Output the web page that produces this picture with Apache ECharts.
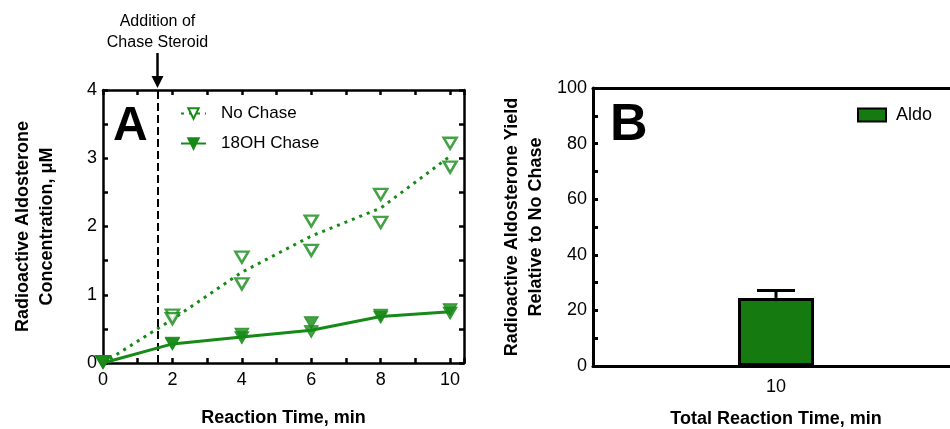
<!DOCTYPE html>
<html>
<head>
<meta charset="utf-8">
<script src="https://cdn.jsdelivr.net/npm/echarts@6/dist/echarts.min.js"></script>
<style>
    html, body { margin: 0; padding: 0; background: #fff; }
    #chart { width: 950px; height: 429px; }
</style>
</head>
<body>
<div id="chart"></div>
<script>
    // panel A: time course
    const times = [0, 2, 4, 6, 8, 10];
    const noChaseRep1 = [0.02, 0.70, 1.55, 2.08, 2.47, 3.22];
    const noChaseRep2 = [0.02, 0.65, 1.16, 1.65, 2.06, 2.87];
    const noChaseMean = [0, 0.64, 1.33, 1.86, 2.27, 3.03];
    const chaseRep1 = [0.02, 0.29, 0.42, 0.59, 0.70, 0.78];
    const chaseRep2 = [0.02, 0.28, 0.37, 0.46, 0.67, 0.73];
    const chaseMean = [0, 0.28, 0.38, 0.48, 0.68, 0.75];
    const chaseTime = 1.57;
    // panel B: yield
    const totalTimes = ['10'];
    const aldoYield = [24.5];
    const aldoErr = [2.7];

    const green = '#168a16';
    const barGreen = '#157a10';
    const font = "'Liberation Sans', Arial, sans-serif";

    const downTri = 'path://M0,0 L12,0 L6,10 Z';

    function pairs(ys) {
        return times.map((t, i) => [t, ys[i]]);
    }
    function lineData(ys) {
        return times.map((t, i) => ({value: [t, ys[i]], symbol: 'none'}));
    }

    let myChart = echarts.init(document.getElementById('chart'));

    const axisLine = {show: true, onZero: false, lineStyle: {color: '#000', width: 2.5}};
    const tickIn = {show: true, inside: true, length: 5, lineStyle: {color: '#000', width: 2.5}};

    myChart.setOption({
        animation: false,
        textStyle: {fontFamily: font, color: '#000'},
        grid: [
            {left: 103, top: 90, width: 361, height: 273, outerBoundsMode: 'none'},
            {left: 593, top: 88, width: 366, height: 278, outerBoundsMode: 'none'}
        ],
        legend: [
            {
                data: ['No Chase', '18OH Chase'],
                orient: 'vertical',
                left: 180, top: 105, padding: 0,
                itemWidth: 25, itemHeight: 13, itemGap: 13,
                textStyle: {fontSize: 17, color: '#000', fontFamily: font, padding: [0, 0, 0, 10]}
            },
            {
                data: ['Aldo'],
                left: 857, top: 106, padding: 0,
                icon: 'rect',
                itemWidth: 28, itemHeight: 13,
                textStyle: {fontSize: 18, color: '#000', fontFamily: font, padding: [0, 0, 0, 5]}
            }
        ],
        xAxis: [
            {
                gridIndex: 0, type: 'value', position: 'bottom',
                min: 0, max: 10.4, interval: 1,
                axisLine: axisLine, axisTick: tickIn, splitLine: {show: false},
                axisLabel: {
                    fontSize: 18, color: '#000', margin: 8,
                    formatter: v => (Math.abs(v % 2) < 1e-6 ? String(v) : '')
                },
                name: 'Reaction Time, min', nameLocation: 'middle', nameGap: 46,
                nameTextStyle: {fontSize: 18, fontWeight: 'bold', color: '#000'}
            },
            {
                gridIndex: 0, type: 'value', position: 'top',
                min: 0, max: 10.4, interval: 1,
                axisLine: axisLine, axisTick: tickIn, splitLine: {show: false},
                axisLabel: {show: false}
            },
            {
                gridIndex: 1, type: 'category', position: 'bottom',
                data: totalTimes,
                axisLine: {show: true, onZero: false, lineStyle: {color: '#000', width: 3}},
                axisTick: {show: false},
                axisLabel: {fontSize: 18, color: '#000', margin: 12},
                name: 'Total Reaction Time, min', nameLocation: 'middle', nameGap: 44,
                nameTextStyle: {fontSize: 18, fontWeight: 'bold', color: '#000'}
            },
            {
                gridIndex: 1, type: 'category', position: 'top',
                data: totalTimes,
                axisLine: {show: true, onZero: false, lineStyle: {color: '#000', width: 3}},
                axisTick: {show: false}, axisLabel: {show: false}
            }
        ],
        yAxis: [
            {
                gridIndex: 0, type: 'value', position: 'left',
                min: 0, max: 4, interval: 0.5,
                axisLine: axisLine, axisTick: tickIn, splitLine: {show: false},
                axisLabel: {
                    fontSize: 18, color: '#000', margin: 6,
                    formatter: v => (Math.abs(v % 1) < 1e-6 ? String(v) : '')
                },
                name: 'Radioactive Aldosterone\nConcentration, μM',
                nameLocation: 'middle', nameGap: 44,
                nameTextStyle: {fontSize: 18, fontWeight: 'bold', color: '#000', lineHeight: 24}
            },
            {
                gridIndex: 0, type: 'value', position: 'right',
                min: 0, max: 4, interval: 0.5,
                axisLine: axisLine, axisTick: tickIn, splitLine: {show: false},
                axisLabel: {show: false}
            },
            {
                gridIndex: 1, type: 'value', position: 'left',
                min: 0, max: 100, interval: 10,
                axisLine: {show: true, onZero: false, lineStyle: {color: '#000', width: 3}},
                axisTick: {show: true, inside: true, length: 5, lineStyle: {color: '#000', width: 3}},
                splitLine: {show: false},
                axisLabel: {
                    fontSize: 18, color: '#000', margin: 6,
                    formatter: v => (v % 20 === 0 ? String(v) : '')
                },
                name: 'Radioactive Aldosterone Yield\nRelative to No Chase',
                nameLocation: 'middle', nameGap: 45,
                nameTextStyle: {fontSize: 18, fontWeight: 'bold', color: '#000', lineHeight: 24}
            }
        ],
        series: [
            {
                name: 'No Chase', type: 'line',
                xAxisIndex: 0, yAxisIndex: 0,
                data: lineData(noChaseMean),
                symbol: downTri, symbolSize: [13, 11],
                itemStyle: {color: '#fff', borderColor: green, borderWidth: 2.5},
                lineStyle: {color: green, width: 3, type: [3, 5]},
                z: 3
            },
            {
                name: 'No Chase reps', type: 'scatter',
                xAxisIndex: 0, yAxisIndex: 0,
                data: pairs(noChaseRep1).concat(pairs(noChaseRep2)),
                symbol: downTri, symbolSize: [13, 11],
                itemStyle: {color: '#fff', borderColor: green, borderWidth: 2.5},
                clip: false, z: 4
            },
            {
                name: '18OH Chase', type: 'line',
                xAxisIndex: 0, yAxisIndex: 0,
                data: lineData(chaseMean),
                symbol: downTri, symbolSize: [14, 12],
                itemStyle: {color: green, borderColor: green, borderWidth: 1},
                lineStyle: {color: green, width: 3},
                z: 5
            },
            {
                name: '18OH Chase reps', type: 'scatter',
                xAxisIndex: 0, yAxisIndex: 0,
                data: pairs(chaseRep1).concat(pairs(chaseRep2)),
                symbol: downTri, symbolSize: [14, 12],
                itemStyle: {color: green, borderColor: green, borderWidth: 1},
                clip: false, z: 6
            },
            {
                name: 'chase line', type: 'line',
                xAxisIndex: 0, yAxisIndex: 0,
                data: [], silent: true,
                markLine: {
                    symbol: 'none', silent: true, label: {show: false},
                    lineStyle: {color: '#000', width: 2, type: [8, 4]},
                    data: [{xAxis: chaseTime}]
                }
            },
            {
                name: 'Aldo', type: 'bar',
                xAxisIndex: 2, yAxisIndex: 2,
                data: aldoYield, barWidth: 76,
                itemStyle: {color: barGreen, borderColor: '#000', borderWidth: 3}
            },
            {
                name: 'Aldo err', type: 'custom',
                xAxisIndex: 2, yAxisIndex: 2,
                data: aldoYield.map((v, i) => [i, v, v + aldoErr[i]]),
                renderItem: function (params, api) {
                    const base = api.coord([api.value(0), api.value(1)]);
                    const top = api.coord([api.value(0), api.value(2)]);
                    const half = 19;
                    return {
                        type: 'group',
                        children: [
                            {type: 'line', shape: {x1: base[0], y1: base[1], x2: top[0], y2: top[1]},
                                style: {stroke: '#000', lineWidth: 3}},
                            {type: 'line', shape: {x1: top[0] - half, y1: top[1], x2: top[0] + half, y2: top[1]},
                                style: {stroke: '#000', lineWidth: 3}}
                        ]
                    };
                },
                z: 1
            }
        ]
    });

    // annotation: arrow at the time the chase steroid was added
    const ax = myChart.convertToPixel({xAxisIndex: 0}, chaseTime);
    const gridTop = 90;
    myChart.setOption({
        graphic: [
            {type: 'text', left: 113, top: 103,
                style: {text: 'A', font: 'bold 48px ' + font, fill: '#000'}},
            {type: 'text', left: 610, top: 100,
                style: {text: 'B', font: 'bold 52px ' + font, fill: '#000'}},
            {type: 'text', x: ax, y: 11,
                style: {text: 'Addition of\nChase Steroid', font: '16px ' + font, fill: '#000',
                    align: 'center', lineHeight: 21}},
            {type: 'line', shape: {x1: ax, y1: 53, x2: ax, y2: gridTop - 12},
                style: {stroke: '#000', lineWidth: 2.5}},
            {type: 'polygon', shape: {points: [[ax - 6, gridTop - 14], [ax + 6, gridTop - 14], [ax, gridTop - 2]]},
                style: {fill: '#000'}}
        ]
    });
</script>
</body>
</html>
